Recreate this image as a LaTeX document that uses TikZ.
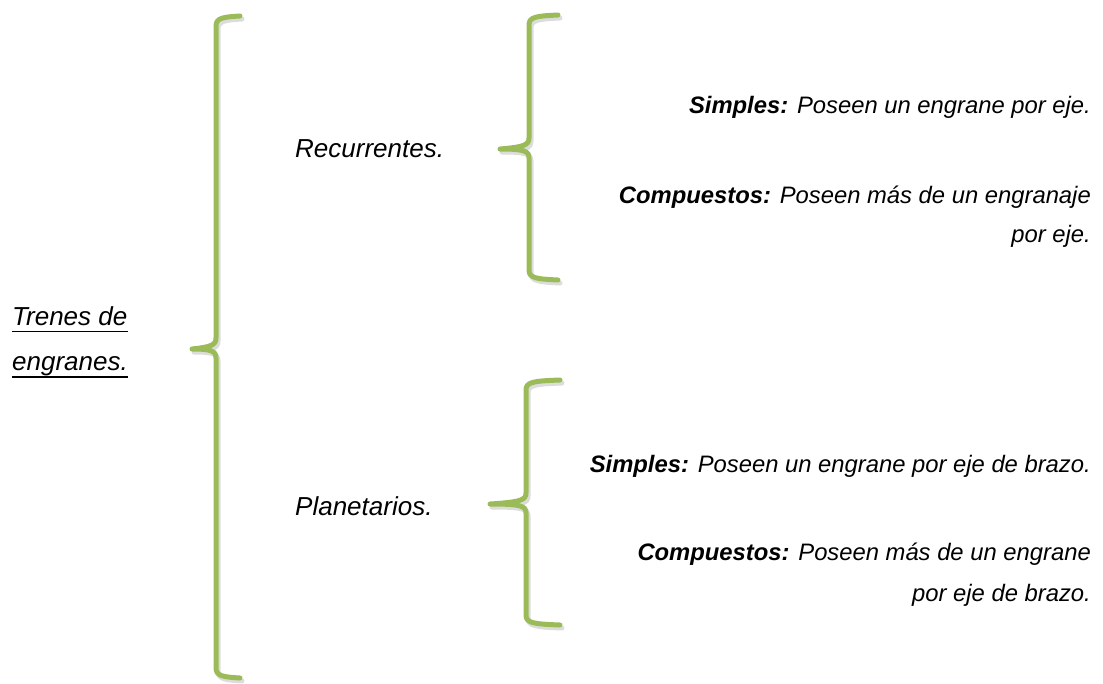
\documentclass[tikz,border=0pt]{standalone}
\usepackage{fontspec}
\setmainfont{Liberation Sans}

\definecolor{verdellave}{HTML}{9BBB59}

% llave: x, arriba, centro, abajo, punta izquierda, puntas derechas
\newcommand{\llave}[6]{%
\foreach \estilo in {llavesombra,llavetrazo}
\draw[\estilo] (#6,#2) .. controls ({#1+7},{#2+1}) and (#1,{#2+2}) .. (#1,{#2+10})
  -- (#1,{#3-10}) .. controls (#1,{#3-3}) and ({#1-5},{#3-1}) .. (#5,{#3+1})
  .. controls ({#1-5},{#3+1}) and (#1,{#3+3}) .. (#1,{#3+10})
  -- (#1,{#4-10}) .. controls (#1,{#4-2}) and ({#1+7},{#4-1}) .. (#6,#4);
}

\tikzset{
  llavetrazo/.style={draw=verdellave, line width=5pt, line cap=round, line join=round},
  llavesombra/.style={draw=black!30, opacity=0.45, line width=5pt, line cap=round,
    line join=round, shift={(2pt,-3pt)}},
  izq/.style={anchor=base west, inner sep=0pt, font=\fontsize{26}{30}\selectfont\itshape},
  der/.style={anchor=base east, inner sep=0pt, font=\fontsize{23.8}{28}\selectfont\itshape},
  subrayado/.style={line width=1.6pt}
}

\begin{document}
\begin{tikzpicture}[x=1pt, y=-1pt]
\useasboundingbox (0,0) rectangle (1103,683);

% llaves
\llave{216}{16}{348}{678}{192}{240}
\llave{529}{15}{148}{280}{500}{558}
\llave{526}{380}{503}{625}{490}{560}

% textos de la izquierda
\node[izq] (trenes) at (12,325) {Trenes de};
\node[izq] (engranes) at (12,370) {engranes.};
\draw[subrayado] ([yshift=-6.5pt]trenes.base west) -- ([yshift=-6.5pt]trenes.base east);
\draw[subrayado] ([yshift=-7pt]engranes.base west) -- ([yshift=-7pt]engranes.base east);
\node[izq] (recurrentes) at (295,157) {Recurrentes.};
\node[izq] (planetarios) at (295,515) {Planetarios.};

% textos de la derecha
\node[der] (recsimples) at (1091,113) {\textbf{Simples:} Poseen un engrane por eje.};
\node[der] (reccomp) at (1091,203) {\textbf{Compuestos:} Poseen más de un engranaje};
\node[der] (reccompb) at (1091,242) {por eje.};
\node[der] (plansimples) at (1091,472) {\textbf{Simples:} Poseen un engrane por eje de brazo.};
\node[der] (plancomp) at (1091,560) {\textbf{Compuestos:} Poseen más de un engrane};
\node[der] (plancompb) at (1091,601) {por eje de brazo.};
\end{tikzpicture}
\end{document}
